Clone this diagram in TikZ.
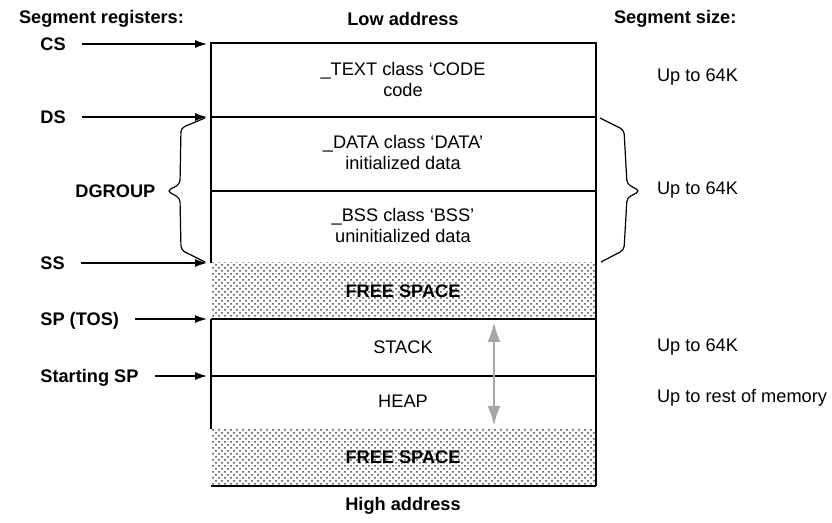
\documentclass[tikz,border=0pt]{standalone}
\usepackage{fontspec}
\setmainfont{Liberation Sans}
\usetikzlibrary{arrows.meta, patterns}

\begin{document}
\begin{tikzpicture}[x=0.5pt, y=-0.5pt, font=\fontsize{9.1}{10.5}\selectfont,
    hdr/.style={font=\fontsize{9.1}{10.5}\selectfont\bfseries},
    reg/.style={hdr, anchor=west, inner sep=0pt, text height=6.5pt, text depth=0pt},
    regarrow/.style={-{Latex[length=6pt,width=4pt]}, line width=0.6pt, shorten <=8pt},
    seg/.style={align=center},
    size/.style={anchor=west},
    wall/.style={line width=0.7pt},
    free/.style={pattern=crosshatch dots, pattern color=black!75},
    brc/.style={line width=0.6pt, rounded corners=2pt},
    growarrow/.style={-{Latex[length=10pt,width=6.5pt]}, gray!70, line width=1.4pt}]
    \useasboundingbox (0,0) rectangle (832,523);
    % headings
    \node[hdr, anchor=west] (reghdr) at (12,19) {Segment registers:};
    \node[hdr] (low) at (403,19) {Low address};
    \node[hdr, anchor=west] (sizehdr) at (607,19) {Segment size:};
    \node[hdr] (high) at (403,506) {High address};
    % free space
    \fill[free] (211,263) rectangle (596,319);
    \fill[free] (211,429) rectangle (596,486);
    % memory column
    \draw[wall] (211,263) -- (211,43) -- (596,43) -- (596,486);
    \draw[wall] (211,319) -- (211,429);
    \draw[wall] (211,117) -- (596,117);
    \draw[wall] (211,191) -- (596,191);
    \draw[wall] (211,319) -- (596,319);
    \draw[wall] (211,376) -- (596,376);
    \draw[line width=1pt] (211,486) -- (596,486);
    \node[seg] (text) at (403,80) {\_TEXT class `CODE\\code};
    \node[seg] (data) at (403,153) {\_DATA class `DATA'\\initialized data};
    \node[seg] (bss) at (403,226) {\_BSS class `BSS'\\uninitialized data};
    \node[hdr] (free1) at (403,291) {FREE SPACE};
    \node (stack) at (403,347) {STACK};
    \node (heap) at (403,401) {HEAP};
    \node[hdr] (free2) at (403,457) {FREE SPACE};
    % stack grows up, heap grows down
    \coordinate (mid) at (494,376);
    \coordinate (stacktop) at (494,322);
    \coordinate (heapend) at (494,426);
    \draw[growarrow] (mid) -- (stacktop);
    \draw[growarrow] (mid) -- (heapend);
    % segment registers
    \node[reg] (cs) at (40,44) {CS};
    \node[reg] (ds) at (40,117) {DS};
    \node[reg] (ss) at (40,263) {SS};
    \node[reg] (sp) at (40,319) {SP (TOS)};
    \node[reg] (ssp) at (40,376) {Starting SP};
    \coordinate (csin) at (207,44);
    \coordinate (dsin) at (207,117);
    \coordinate (ssin) at (207,263);
    \coordinate (spin) at (207,319);
    \coordinate (sspin) at (207,376);
    \draw[regarrow] (cs) -- (csin);
    \draw[regarrow] (ds) -- (dsin);
    \draw[regarrow] (ss) -- (ssin);
    \draw[regarrow] (sp) -- (spin);
    \draw[regarrow] (ssp) -- (sspin);
    % DGROUP brace
    \node[reg] (dgroup) at (75,191) {DGROUP};
    \draw[brc] (205,118) -- (181,128) -- (180,184) -- (167,191) -- (180,198) -- (181,250) -- (205,262);
    \draw[brc] (600,118) -- (624,130) -- (627,184) -- (640,191) -- (627,198) -- (624,250) -- (601,262);
    % sizes
    \node[size] (sz1) at (650,77) {Up to 64K};
    \node[size] (sz2) at (650,190) {Up to 64K};
    \node[size] (sz3) at (650,347) {Up to 64K};
    \node[size] (sz4) at (650,398) {Up to rest of memory};
\end{tikzpicture}
\end{document}
